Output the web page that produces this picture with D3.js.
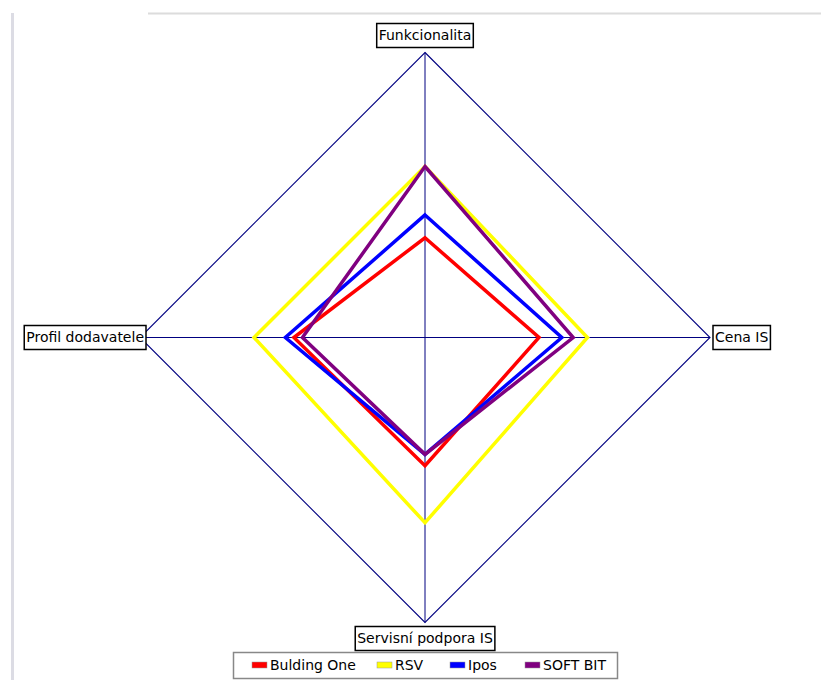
<!DOCTYPE html>
<html>
<head>
<meta charset="utf-8">
<script src="https://cdn.jsdelivr.net/npm/d3@7"></script>
<style>
  body { margin: 0; background: #fff; }
  svg { display: block; }
</style>
</head>
<body>
<div class="customChart"></div>
<script>
const axes = ["Funkcionalita", "Cena IS", "Servisní podpora IS", "Profil dodavatele"];
const seriesNames = ["Bulding One", "RSV", "Ipos", "SOFT BIT"];
const colors = ["#ff0000", "#ffff00", "#0000ff", "#800080"];
const buldingOne = [0.35, 0.40, 0.45, 0.46];
const rsv = [0.60, 0.57, 0.65, 0.60];
const ipos = [0.43, 0.48, 0.41, 0.49];
const softBit = [0.60, 0.52, 0.41, 0.43];
const allSeries = [buldingOne, rsv, ipos, softBit];

const width = 821, height = 680;
const cx = 425, cy = 337.5, radius = 285;

const svg = d3.select('.customChart')
	.append('svg')
	.attr('width', width)
	.attr('height', height)
	.attr('font-family', 'DejaVu Sans, Verdana, sans-serif');

// light frame lines of the panel
svg.append("line")
	.attr("x1", 12.5).attr("x2", 12.5)
	.attr("y1", 13).attr("y2", height)
	.attr("stroke", "#dcdce4").attr("stroke-width", 3);
svg.append("line")
	.attr("x1", 148).attr("x2", width)
	.attr("y1", 13.5).attr("y2", 13.5)
	.attr("stroke", "#dcdcdc").attr("stroke-width", 2);

const rScale = d3.scaleLinear().domain([0, 1]).range([0, radius]);
const angle = d3.scaleBand().domain(axes).range([0, 2 * Math.PI]).align(0);

const g = svg.append("g").attr("transform", `translate(${cx},${cy})`);

const point = (a, v) => [
	Math.sin(angle(a)) * rScale(v),
	-Math.cos(angle(a)) * rScale(v)
];

// outer diamond
g.append("path")
	.attr("d", d3.line().curve(d3.curveLinearClosed)(axes.map(a => point(a, 1))))
	.attr("fill", "none")
	.attr("stroke", "#000080")
	.attr("stroke-width", 1.1);

// spokes
g.selectAll("line.spoke")
	.data(axes)
	.join("line")
	.attr("class", "spoke")
	.attr("x1", 0).attr("y1", 0)
	.attr("x2", d => point(d, 1)[0])
	.attr("y2", d => point(d, 1)[1])
	.attr("stroke", "#000080")
	.attr("stroke-width", 1);

// series
const radarLine = d3.lineRadial()
	.curve(d3.curveLinearClosed)
	.angle((d, i) => angle(axes[i]))
	.radius(d => rScale(d));

g.selectAll("path.series")
	.data(allSeries)
	.join("path")
	.attr("class", "series")
	.attr("d", radarLine)
	.attr("fill", "none")
	.attr("stroke", (d, i) => colors[i])
	.attr("stroke-width", 3.5)
	.attr("stroke-linejoin", "miter");

// axis labels in boxes
const labelPos = [
	{anchor: "middle", x: 0, y: -radius - 17},
	{anchor: "start", x: radius + 5, y: 0},
	{anchor: "middle", x: 0, y: radius + 16},
	{anchor: "end", x: -radius + 4, y: 0}
];

axes.forEach((a, i) => {
	const p = labelPos[i];
	const lg = g.append("g").attr("transform", `translate(${p.x},${p.y})`);
	const rect = lg.append("rect");
	const t = lg.append("text")
		.attr("text-anchor", p.anchor)
		.attr("dy", "0.35em")
		.attr("font-size", 14)
		.attr("fill", "#000")
		.text(a);
	const bb = t.node().getBBox();
	rect.attr("x", bb.x - 2).attr("y", -12)
		.attr("width", bb.width + 4).attr("height", 24)
		.attr("fill", "#fff")
		.attr("stroke", "#000")
		.attr("stroke-width", 1.5);
});

// legend
const legend = svg.append("g").attr("transform", "translate(233,652)");
legend.append("rect")
	.attr("x", 0.5).attr("y", 0.5)
	.attr("width", 384).attr("height", 26)
	.attr("fill", "#fff")
	.attr("stroke", "#888")
	.attr("stroke-width", 1.5);

const legendX = [19, 144, 217, 292];
const items = legend.selectAll("g.item")
	.data(seriesNames)
	.join("g")
	.attr("class", "item")
	.attr("transform", (d, i) => `translate(${legendX[i]},13)`);
items.append("rect")
	.attr("x", 0).attr("y", -3)
	.attr("width", 15).attr("height", 6)
	.attr("fill", (d, i) => colors[i])
	.attr("stroke", "#999")
	.attr("stroke-width", 0.5);
items.append("text")
	.attr("x", 18)
	.attr("dy", "0.35em")
	.attr("font-size", 14)
	.attr("fill", "#000")
	.text(d => d);
</script>
</body>
</html>
